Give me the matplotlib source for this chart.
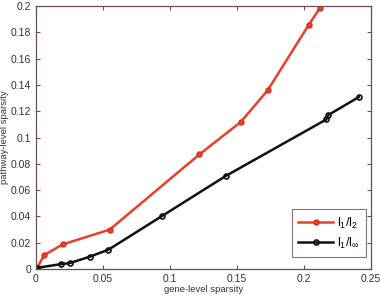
import matplotlib
matplotlib.use("Agg")
import matplotlib.pyplot as plt

red_x = [0.001, 0.006, 0.020, 0.055, 0.122, 0.153, 0.173, 0.2035, 0.212]
red_y = [0.001, 0.0106, 0.0188, 0.030, 0.0872, 0.112, 0.136, 0.1855, 0.1985]
black_x = [0.001, 0.0187, 0.0254, 0.040, 0.054, 0.094, 0.142, 0.2168, 0.218, 0.241]
black_y = [0.001, 0.0038, 0.0046, 0.0094, 0.0147, 0.0403, 0.071, 0.1138, 0.117, 0.1308]
labels = [r'$\mathregular{l_1/l_2}$', r'$\mathregular{l_1/l_\infty}$']
xticks = [0, 0.05, 0.1, 0.15, 0.2, 0.25]
yticks = [0, 0.02, 0.04, 0.06, 0.08, 0.1, 0.12, 0.14, 0.16, 0.18, 0.2]

plt.rcParams['font.family'] = ['Liberation Sans', 'DejaVu Sans']
spine_c = '#6e4e56'

fig = plt.figure(figsize=(3.8, 3.0), dpi=100)
ax = fig.add_axes([0.0947, 0.103, 0.976 - 0.0947, 0.98 - 0.103])
ax.plot(red_x, red_y, '-o', color='#e8402a', lw=1.8, ms=3.6, mfc='#e8402a', mec='#d83020', mew=1, label=labels[0])
ax.plot(black_x, black_y, '-o', color='#111111', lw=1.8, ms=3.6, mfc='none', mec='#111111', mew=1.2, label=labels[1])
ax.set_xlim(0, 0.25)
ax.set_ylim(0, 0.2)
ax.set_xticks(xticks)
ax.set_yticks(yticks)
ax.set_xticklabels([f'{t:g}' for t in xticks])
ax.set_yticklabels([f'{t:g}' for t in yticks])
ax.tick_params(direction='in', length=3, width=0.8, color=spine_c, labelsize=7.5, top=True, right=True, labelcolor='#333333')
for s in ax.spines.values():
    s.set_color(spine_c)
    s.set_linewidth(0.9)
ax.set_xlabel('gene-level sparsity', fontsize=6.8, color='#333333', labelpad=1)
ax.set_ylabel('pathway-level sparsity', fontsize=6.8, color='#333333', labelpad=1)
leg = ax.legend(loc='lower right', bbox_to_anchor=(0.985, 0.046), fontsize=9, frameon=True, fancybox=False,
                edgecolor=spine_c, borderaxespad=0, handlelength=2.8, handletextpad=0.3, borderpad=0.5,
                labelspacing=0.4)
leg.get_frame().set_linewidth(0.8)
fig.savefig('out.png', dpi=100)
